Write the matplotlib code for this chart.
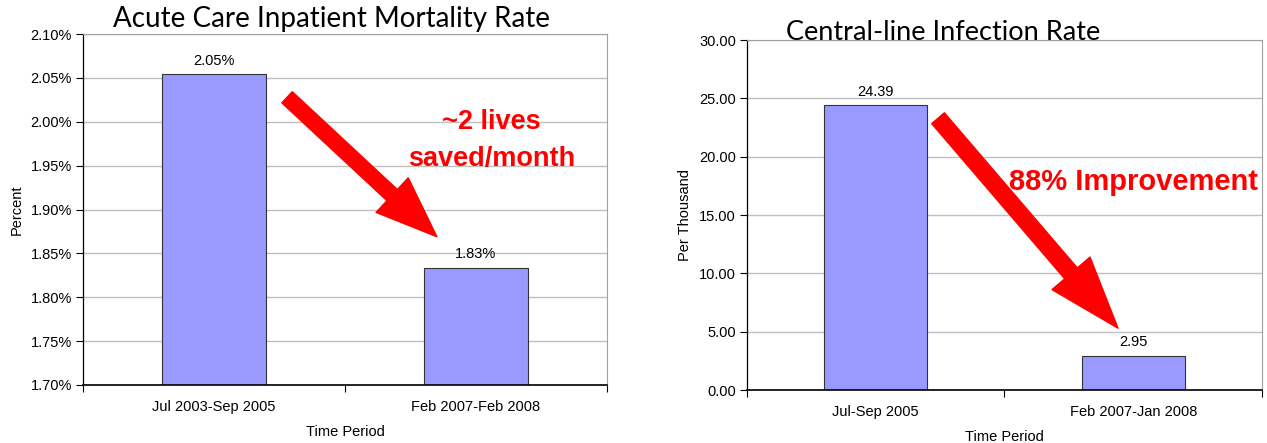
#!/usr/bin/env python3
"""Two before/after bar charts: mortality rate and central-line infection rate."""

import matplotlib

matplotlib.use("Agg")
import matplotlib.pyplot as plt  # noqa: E402
from matplotlib.ticker import FixedLocator, FuncFormatter  # noqa: E402

# --- data -------------------------------------------------------------------
MORTALITY_PERIODS = ["Jul 2003-Sep 2005", "Feb 2007-Feb 2008"]
MORTALITY_PCT = [2.054, 1.833]
MORTALITY_TICKS = [1.70, 1.75, 1.80, 1.85, 1.90, 1.95, 2.00, 2.05, 2.10]

INFECTION_PERIODS = ["Jul-Sep 2005", "Feb 2007-Jan 2008"]
INFECTION_RATE = [24.39, 2.95]
INFECTION_TICKS = [0, 5, 10, 15, 20, 25, 30]

BAR_COLOR = "#9999ff"
GRID_COLOR = "#c0c0c0"
RED = "#ff0000"
SMALL = 10.5

plt.rcParams["font.family"] = ["Liberation Sans", "DejaVu Sans"]

fig = plt.figure(figsize=(12.67, 4.43), dpi=100)
ax1 = fig.add_axes([0.0655, 0.131, 0.4135, 0.792])
ax2 = fig.add_axes([0.5896, 0.1196, 0.4064, 0.790])


def style_axes(ax, labels, ticks, fmt, ylabel):
    ax.set_xlim(-0.5, 1.5)
    ax.set_ylim(ticks[0], ticks[-1])
    ax.yaxis.set_major_locator(FixedLocator(ticks))
    ax.yaxis.set_major_formatter(FuncFormatter(fmt))
    ax.set_xticks(range(len(labels)), labels)
    ax.xaxis.set_minor_locator(FixedLocator([-0.5, 0.5, 1.5]))
    ax.tick_params(axis="x", which="major", length=0, labelsize=SMALL, pad=11)
    ax.tick_params(axis="x", which="minor", length=5, width=0.8, direction="out")
    ax.tick_params(axis="y", length=5, width=0.8, labelsize=SMALL, pad=3)
    ax.grid(axis="y", color=GRID_COLOR, linewidth=1.0)
    ax.set_axisbelow(True)
    for side in ("top", "right"):
        ax.spines[side].set_color("#a0a0a0")
    ax.spines["left"].set_linewidth(0.9)
    ax.spines["bottom"].set_linewidth(1.2)
    ax.set_xlabel("Time Period", fontsize=SMALL, labelpad=8)
    ax.set_ylabel(ylabel, fontsize=SMALL, labelpad=5)


# --- left chart -------------------------------------------------------------
bars = ax1.bar(range(len(MORTALITY_PERIODS)), MORTALITY_PCT, width=0.4,
               color=BAR_COLOR, edgecolor="#333333", linewidth=0.8)
ax1.bar_label(bars, labels=[f"{v:.2f}%" for v in MORTALITY_PCT], fontsize=SMALL, padding=5)
style_axes(ax1, MORTALITY_PERIODS, MORTALITY_TICKS, lambda v, _: f"{v:.2f}%", "Percent")
ax1.annotate("", xy=(0.851, 1.869), xytext=(0.279, 2.028),
             arrowprops=dict(arrowstyle="simple,head_length=2.2,head_width=1.7,tail_width=0.55",
                             mutation_scale=20, color=RED, shrinkA=0, shrinkB=0))
ax1.text(1.06, 1.979, "~2 lives\nsaved/month", color=RED, fontsize=19.5, fontweight="bold",
         ha="center", va="center", linespacing=1.55)
fig.text(0.262, 0.957, "Acute Care Inpatient Mortality Rate", fontsize=20,
         family=["Lato", "DejaVu Sans"], ha="center", va="center")

# --- right chart ------------------------------------------------------------
bars = ax2.bar(range(len(INFECTION_PERIODS)), INFECTION_RATE, width=0.4,
               color=BAR_COLOR, edgecolor="#333333", linewidth=0.8)
ax2.bar_label(bars, labels=[f"{v:.2f}" for v in INFECTION_RATE], fontsize=SMALL, padding=5)
style_axes(ax2, INFECTION_PERIODS, INFECTION_TICKS, lambda v, _: f"{v:.2f}", "Per Thousand")
ax2.annotate("", xy=(0.941, 5.3), xytext=(0.242, 23.3),
             arrowprops=dict(arrowstyle="simple,head_length=2.6,head_width=1.8,tail_width=0.6",
                             mutation_scale=20, color=RED, shrinkA=0, shrinkB=0))
ax2.text(1.0, 17.8, "88% Improvement", color=RED, fontsize=21, fontweight="bold",
         ha="center", va="center")
fig.text(0.744, 0.927, "Central-line Infection Rate", fontsize=19.5,
         family=["Lato", "DejaVu Sans"], ha="center", va="center")

fig.savefig("out.png", dpi=100)
